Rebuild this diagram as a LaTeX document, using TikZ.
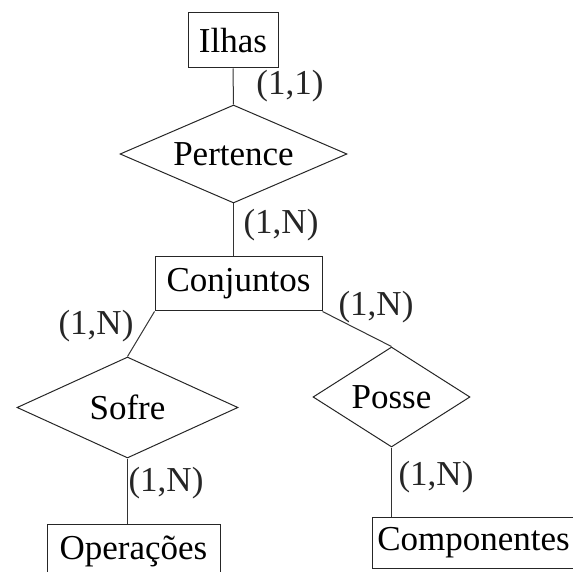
\documentclass[tikz,border=0pt]{standalone}
\usepackage{fontspec}
\setmainfont{Liberation Serif}
\usetikzlibrary{shapes.geometric}

\tikzset{
  entidade/.style={draw=black!85, line width=0.5pt, rectangle, inner sep=0pt},
  relacao/.style={draw=black!85, line width=0.5pt, diamond, inner sep=0pt},
  card/.style={inner sep=0pt, text=black!85},
  liga/.style={draw=black!80, line width=0.5pt}
}

\begin{document}
\begin{tikzpicture}[x=0.5pt, y=-0.5pt, font=\fontsize{17.5}{21}\selectfont]
  \useasboundingbox (0,0) rectangle (573,572);
  % entidades
  \node[entidade, minimum width=45pt, minimum height=27.5pt] (ilhas) at (233,40.5) {Ilhas};
  \node[entidade, minimum width=83.5pt, minimum height=27pt] (conjuntos) at (238.5,284) {Conjuntos};
  \node[entidade, minimum width=86.5pt, minimum height=27pt] (operacoes) at (133.5,551) {Operações};
  \node[entidade, minimum width=101.5pt, minimum height=25.5pt] (componentes) at (473.5,542.5) {Componentes};
  % relacionamentos
  \node[relacao, aspect=2.3, minimum width=113.5pt, minimum height=49pt] (pertence) at (233.5,154) {Pertence};
  \node[relacao, aspect=2.2, minimum width=110.5pt, minimum height=50.5pt] (sofre) at (127.5,407.5) {Sofre};
  \node[relacao, aspect=1.57, minimum width=78.5pt, minimum height=50pt] (posse) at (391.5,397) {Posse};
  % ligacoes
  \draw[liga] (ilhas.south) -- (pertence.north);
  \draw[liga] (pertence.south) -- (pertence.south |- conjuntos.north);
  \draw[liga] (conjuntos.south west) -- (sofre.north);
  \draw[liga] (conjuntos.south east) -- (posse.north);
  \draw[liga] (sofre.south) -- (sofre.south |- operacoes.north);
  \draw[liga] (posse.south) -- (posse.south |- componentes.north);
  % cardinalidades
  \node[card] (c11) at (290,86) {(1,1)};
  \node[card] (c1n) at (281,225) {(1,N)};
  \node[card] (c1ns) at (96,326) {(1,N)};
  \node[card] (c1np) at (376,307) {(1,N)};
  \node[card] (c1no) at (166,483) {(1,N)};
  \node[card] (c1nc) at (436,477) {(1,N)};
\end{tikzpicture}
\end{document}
